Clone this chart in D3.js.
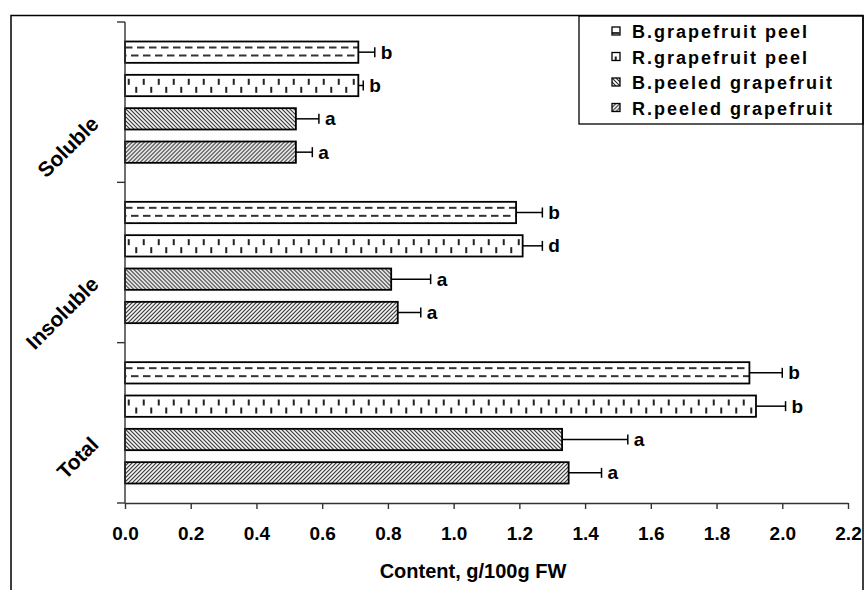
<!DOCTYPE html>
<html>
<head>
<meta charset="utf-8">
<script src="https://cdn.jsdelivr.net/npm/d3@7"></script>
<style>
  html, body { margin: 0; padding: 0; background: #fff; }
  svg { display: block; font-family: "Liberation Sans", Arial, sans-serif; }
</style>
</head>
<body>
<script>
// ---- data ----
const categories = ["Soluble", "Insoluble", "Total"];
const series = ["B.grapefruit peel", "R.grapefruit peel", "B.peeled grapefruit", "R.peeled grapefruit"];
const bPeelValues    = [0.71, 1.19, 1.90];
const rPeelValues    = [0.71, 1.21, 1.92];
const bPeeledValues  = [0.52, 0.81, 1.33];
const rPeeledValues  = [0.52, 0.83, 1.35];
const bPeelErrors    = [0.05, 0.08, 0.10];
const rPeelErrors    = [0.015, 0.06, 0.09];
const bPeeledErrors  = [0.07, 0.12, 0.20];
const rPeeledErrors  = [0.05, 0.07, 0.10];
const bPeelLetters   = ["b", "b", "b"];
const rPeelLetters   = ["b", "d", "b"];
const bPeeledLetters = ["a", "a", "a"];
const rPeeledLetters = ["a", "a", "a"];
const xTicks = [0, 0.2, 0.4, 0.6, 0.8, 1.0, 1.2, 1.4, 1.6, 1.8, 2.0, 2.2];
const xTitle = "Content, g/100g FW";

const valuesBySeries  = [bPeelValues, rPeelValues, bPeeledValues, rPeeledValues];
const errorsBySeries  = [bPeelErrors, rPeelErrors, bPeeledErrors, rPeeledErrors];
const lettersBySeries = [bPeelLetters, rPeelLetters, bPeeledLetters, rPeeledLetters];
const patternIds = ["pat-hdash", "pat-vdash", "pat-bdiag", "pat-fdiag"];

const W = 866, H = 590;
const svg = d3.select("body").append("svg").attr("width", W).attr("height", H);
svg.append("rect").attr("width", W).attr("height", H).attr("fill", "#fff");

// ---- patterns ----
const defs = svg.append("defs");
const hatch = "#222";
{
  const p = defs.append("pattern").attr("id", "pat-hdash").attr("patternUnits", "userSpaceOnUse")
    .attr("width", 12).attr("height", 16);
  p.append("rect").attr("width", 12).attr("height", 16).attr("fill", "#fff");
  p.append("path").attr("d", "M0,6H7.5 M6,14H12 M0,14H1.5").attr("stroke", "#333").attr("stroke-width", 2);
}
{
  const p = defs.append("pattern").attr("id", "pat-vdash").attr("patternUnits", "userSpaceOnUse")
    .attr("width", 15).attr("height", 22);
  p.append("rect").attr("width", 15).attr("height", 22).attr("fill", "#fff");
  p.append("path").attr("d", "M3.75,4V10 M11.25,12V18").attr("stroke", "#222").attr("stroke-width", 2);
}
{
  const p = defs.append("pattern").attr("id", "pat-bdiag").attr("patternUnits", "userSpaceOnUse")
    .attr("width", 4).attr("height", 4);
  p.append("rect").attr("width", 4).attr("height", 4).attr("fill", "#fff");
  p.append("path").attr("d", "M-1,-1L5,5 M-1,3L1,5 M3,-1L5,1").attr("stroke", hatch).attr("stroke-width", 1.1);
}
{
  const p = defs.append("pattern").attr("id", "pat-fdiag").attr("patternUnits", "userSpaceOnUse")
    .attr("width", 4).attr("height", 4);
  p.append("rect").attr("width", 4).attr("height", 4).attr("fill", "#fff");
  p.append("path").attr("d", "M-1,1L1,-1 M-1,5L5,-1 M3,5L5,3").attr("stroke", hatch).attr("stroke-width", 1.1);
}

// ---- scales ----
const x = d3.scaleLinear().domain([0, 2.2]).range([125, 848]);
const y = d3.scaleBand().domain(categories).range([22, 503]);
const ys = d3.scaleBand().domain(series).range([0, y.bandwidth()])
  .paddingInner(0.36).paddingOuter(0.585);

// ---- bars ----
series.forEach((s, i) => {
  categories.forEach((c, j) => {
    const v = valuesBySeries[i][j], e = errorsBySeries[i][j];
    const top = y(c) + ys(s);
    const bh = ys.bandwidth();
    const cy = top + bh / 2;
    const g = svg.append("g").attr("transform", `translate(${x(0)},${top})`);
    g.append("rect").attr("x", 0).attr("y", 0)
      .attr("width", x(v) - x(0)).attr("height", bh)
      .attr("fill", `url(#${patternIds[i]})`)
      .attr("stroke", "#000").attr("stroke-width", 1.8);
    // error bar
    svg.append("line").attr("x1", x(v)).attr("x2", x(v + e)).attr("y1", cy).attr("y2", cy)
      .attr("stroke", "#000").attr("stroke-width", 1.5);
    svg.append("line").attr("x1", x(v + e)).attr("x2", x(v + e)).attr("y1", cy - 5).attr("y2", cy + 5)
      .attr("stroke", "#000").attr("stroke-width", 1.5);
    // letter
    svg.append("text").attr("x", x(v + e) + 6).attr("y", cy + 6.5)
      .attr("font-size", 19).attr("font-weight", "bold").attr("fill", "#000")
      .text(lettersBySeries[i][j]);
  });
});

// ---- axes ----
const axisColor = "#333";
const xAxis = svg.append("g").attr("transform", `translate(0,${y.range()[1]})`)
  .call(d3.axisBottom(x).tickValues(xTicks).tickFormat(d3.format(".1f")).tickSize(6).tickSizeOuter(0));
xAxis.select(".domain").attr("stroke", axisColor).attr("stroke-width", 1.4);
xAxis.selectAll(".tick line").attr("stroke", axisColor).attr("stroke-width", 1.4);
xAxis.selectAll(".tick text").attr("y", 37).attr("dy", 0)
  .attr("font-size", 19).attr("font-weight", "bold").attr("fill", "#000")
  .attr("font-family", "'Liberation Sans', Arial, sans-serif");

// y axis line and boundary ticks
svg.append("line").attr("x1", x(0)).attr("x2", x(0)).attr("y1", y.range()[0]).attr("y2", y.range()[1])
  .attr("stroke", axisColor).attr("stroke-width", 1.4);
const boundaries = categories.map(c => y(c)).concat([y.range()[1]]);
svg.selectAll(".ybound").data(boundaries).enter().append("line")
  .attr("x1", x(0) - 8).attr("x2", x(0)).attr("y1", d => d).attr("y2", d => d)
  .attr("stroke", axisColor).attr("stroke-width", 1.4);

// category labels
categories.forEach(c => {
  const cy = y(c) + y.bandwidth() / 2;
  svg.append("text").attr("transform", `translate(100,${cy + 23}) rotate(-45)`)
    .attr("text-anchor", "end").attr("font-size", 21).attr("font-weight", "bold").attr("fill", "#000")
    .text(c);
});

// axis title
svg.append("text").attr("x", 473).attr("y", 578).attr("text-anchor", "middle")
  .attr("font-size", 20).attr("font-weight", "bold").attr("fill", "#000").text(xTitle);

// ---- legend ----
svg.append("rect").attr("x", 579).attr("y", 16).attr("width", 284).attr("height", 108)
  .attr("fill", "#fff").attr("stroke", "#000").attr("stroke-width", 1.3);
series.forEach((s, i) => {
  const base = 38 + i * 25.5;
  const g = svg.append("g").attr("transform", `translate(612,${base - 11})`);
  g.append("rect").attr("width", 8).attr("height", 8)
    .attr("fill", `url(#${patternIds[i]})`).attr("stroke", "#000").attr("stroke-width", 1.3);
  svg.append("text").attr("x", 632).attr("y", base)
    .attr("font-size", 18).attr("font-weight", "bold").attr("letter-spacing", 2).attr("fill", "#000")
    .text(s);
});

// ---- outer frame ----
svg.append("rect").attr("x", 11).attr("y", 15.5).attr("width", 852).attr("height", 620)
  .attr("fill", "none").attr("stroke", "#000").attr("stroke-width", 1.5);
</script>
</body>
</html>
